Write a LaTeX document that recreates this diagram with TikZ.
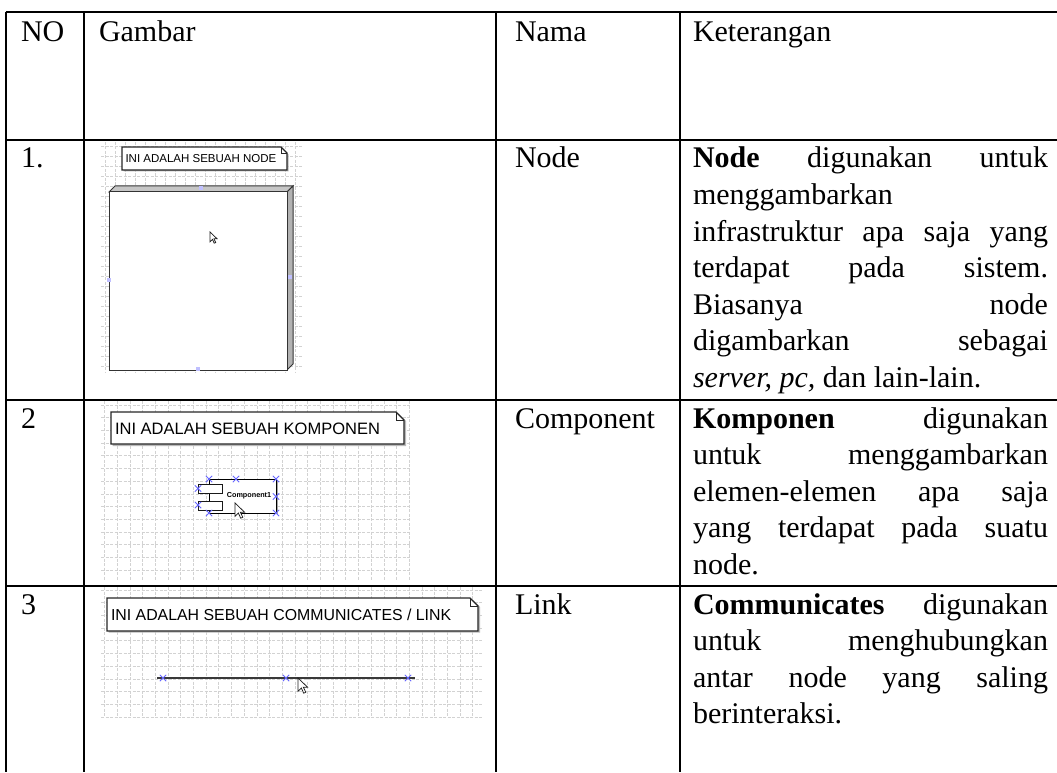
\documentclass[tikz,border=0pt]{standalone}
\usepackage{fontspec}
\setmainfont{Liberation Serif}
\newfontfamily\uifont{Liberation Sans}
\usetikzlibrary{shapes.misc}

% one text line stretched to the full width of the description column
\newcommand\fullline[1]{\makebox[142pt][s]{#1}}

\tikzset{
  tabline/.style={line width=0.8pt, black},
  celltext/.style={anchor=base west, inner sep=0pt, outer sep=0pt,
                   font=\fontsize{12}{14}\selectfont},
  gridln/.style={gray!35, line width=0.25pt, dash pattern=on 1.2pt off 0.6pt},
  notebox/.style={fill=white, draw=gray!30!black, line width=0.45pt},
  noteshadow/.style={fill=gray!55, draw=none},
  selx/.style={cross out, draw=blue!60, line width=0.35pt, minimum size=2.2pt,
               inner sep=0pt},
  selsq/.style={rectangle, fill=blue!25, minimum size=1.6pt, inner sep=0pt},
  cursorpic/.pic={
    \draw[fill=white, draw=gray!25!black, line width=0.3pt]
      (0,0) -- (0,14) -- (3.5,10.5) -- (6,16) -- (8.2,15) -- (5.6,9.6)
      -- (10,9.6) -- cycle;
  },
}

\begin{document}
\begin{tikzpicture}[x=0.4pt,y=-0.4pt]
\useasboundingbox (0,0) rectangle (1057,772);

% ---------------- screenshot 1: node ----------------
\foreach \gx in {105,115,...,302} \draw[gridln] (\gx,142) -- (\gx,372);
\foreach \gy in {146,156,...,372} \draw[gridln] (101,\gy) -- (302,\gy);
% note
\fill[noteshadow] (123.5,148.5) -- (282.5,148.5) -- (288.5,154.5) -- (288.5,171.5) -- (123.5,171.5) -- cycle;
\draw[notebox] (122,147) -- (281,147) -- (287,153) -- (287,170) -- (122,170) -- cycle;
\draw[gray!30!black, line width=0.35pt] (281,147) -- (281,153) -- (287,153);
\node[anchor=west, inner sep=0pt, font=\uifont\fontsize{4.6}{5}\selectfont] (n1)
  at (125,158.5) {INI ADALAH SEBUAH NODE};
% 3D node box
\filldraw[fill=gray!45, draw=gray!40!black, line width=0.4pt]
  (109,192) -- (115,186) -- (293,186) -- (287,192) -- cycle;
\filldraw[fill=gray!60, draw=gray!40!black, line width=0.4pt]
  (287,192) -- (293,186) -- (293,364) -- (287,370) -- cycle;
\filldraw[fill=white, draw=gray!40!black, line width=0.4pt] (109,192) rectangle (287,370);
\node[selsq] at (201,188) {};
\node[selsq] at (109,280) {};
\node[selsq] at (290,277) {};
\node[selsq] at (198,369) {};
\pic[scale=0.7] at (210,232) {cursorpic};

% ---------------- screenshot 2: component ----------------
\foreach \gx in {104.5,117.2,...,410} \draw[gridln] (\gx,401) -- (\gx,581);
\foreach \gy in {405,417.7,...,581} \draw[gridln] (101,\gy) -- (410,\gy);
\fill[noteshadow] (112.5,413.5) -- (398.5,413.5) -- (406,421) -- (406,446) -- (112.5,446) -- cycle;
\draw[notebox] (111,412) -- (396,412) -- (404,420) -- (404,444) -- (111,444) -- cycle;
\draw[gray!30!black, line width=0.35pt] (396,412) -- (396,420) -- (404,420);
\node[anchor=west, inner sep=0pt, font=\uifont\fontsize{6.6}{7}\selectfont] (n2)
  at (114.5,428.5) {INI ADALAH SEBUAH KOMPONEN};
% component symbol
\draw[gray!70, line width=0.9pt] (276.5,480) -- (276.5,513.5);
\filldraw[fill=white, draw=black, line width=0.4pt] (209,479) rectangle (276,513);
\filldraw[fill=white, draw=gray!20!black, line width=0.4pt] (198,484) rectangle (222,493);
\filldraw[fill=white, draw=gray!20!black, line width=0.4pt] (198,501) rectangle (222,510);
\node[inner sep=0pt, font=\uifont\bfseries\fontsize{2.9}{3}\selectfont] (c1)
  at (249,496) {Component1};
\foreach \mx/\my in {209/479, 236/479, 276/479, 198/488.5, 198/505, 276/496.5, 209/513, 276/513}
  \node[selx] at (\mx,\my) {};
\pic[scale=0.95] at (235,503) {cursorpic};

% ---------------- screenshot 3: link ----------------
\foreach \gx in {104.5,117.2,...,482} \draw[gridln] (\gx,587) -- (\gx,717);
\foreach \gy in {590,602.7,...,717} \draw[gridln] (101,\gy) -- (482,\gy);
\fill[noteshadow] (108.5,599.5) -- (472.5,599.5) -- (480,607) -- (480,632.5) -- (108.5,632.5) -- cycle;
\draw[notebox] (107,598) -- (470,598) -- (478,606) -- (478,631) -- (107,631) -- cycle;
\draw[gray!30!black, line width=0.35pt] (470,598) -- (470,606) -- (478,606);
\node[anchor=west, inner sep=0pt, font=\uifont\fontsize{6.35}{7}\selectfont] (n3)
  at (110.5,614.5) {INI ADALAH SEBUAH COMMUNICATES / LINK};
\coordinate (la) at (157,678);
\coordinate (lb) at (415,678);
\draw[gray!45!black, line width=0.55pt] (la) -- (lb);
\foreach \mx in {163,286,408} \node[selx] at (\mx,678) {};
\pic[scale=0.95] at (298,678) {cursorpic};

% ---------------- table rules ----------------
\foreach \ty in {12,140,400,586} \draw[tabline] (5.6,\ty) -- (1057,\ty);
\foreach \tx in {6,84,496,680} \draw[tabline] (\tx,11.6) -- (\tx,772);

% ---------------- header ----------------
\node[celltext] (h1) at (21,42)  {NO};
\node[celltext] (h2) at (99,42)  {Gambar};
\node[celltext] (h3) at (515,42) {Nama};
\node[celltext] (h4) at (693,42) {Keterangan};

% ---------------- row 1 ----------------
\node[celltext] (r1no) at (21,168)  {1.};
\node[celltext] (r1nm) at (515,168) {Node};
\node[celltext] (r1a) at (693,168)   {\fullline{\textbf{Node} digunakan untuk}};
\node[celltext] (r1b) at (693,204.5) {menggambarkan};
\node[celltext] (r1c) at (693,241)   {\fullline{infrastruktur apa saja yang}};
\node[celltext] (r1d) at (693,277.5) {\fullline{terdapat pada sistem.}};
\node[celltext] (r1e) at (693,314)   {\fullline{Biasanya node}};
\node[celltext] (r1f) at (693,350.5) {\fullline{digambarkan sebagai}};
\node[celltext] (r1g) at (693,387)   {\textit{server, pc,} dan lain-lain.};

% ---------------- row 2 ----------------
\node[celltext] (r2no) at (21,428)  {2};
\node[celltext] (r2nm) at (515,428) {Component};
\node[celltext] (r2a) at (693,428)   {\fullline{\textbf{Komponen} digunakan}};
\node[celltext] (r2b) at (693,464.5) {\fullline{untuk menggambarkan}};
\node[celltext] (r2c) at (693,501)   {\fullline{elemen-elemen apa saja}};
\node[celltext] (r2d) at (693,537.5) {\fullline{yang terdapat pada suatu}};
\node[celltext] (r2e) at (693,574)   {node.};

% ---------------- row 3 ----------------
\node[celltext] (r3no) at (21,614)  {3};
\node[celltext] (r3nm) at (515,614) {Link};
\node[celltext] (r3a) at (693,614)   {\fullline{\textbf{Communicates} digunakan}};
\node[celltext] (r3b) at (693,650.5) {\fullline{untuk menghubungkan}};
\node[celltext] (r3c) at (693,687)   {\fullline{antar node yang saling}};
\node[celltext] (r3d) at (693,723.5) {berinteraksi.};
\end{tikzpicture}
\end{document}
